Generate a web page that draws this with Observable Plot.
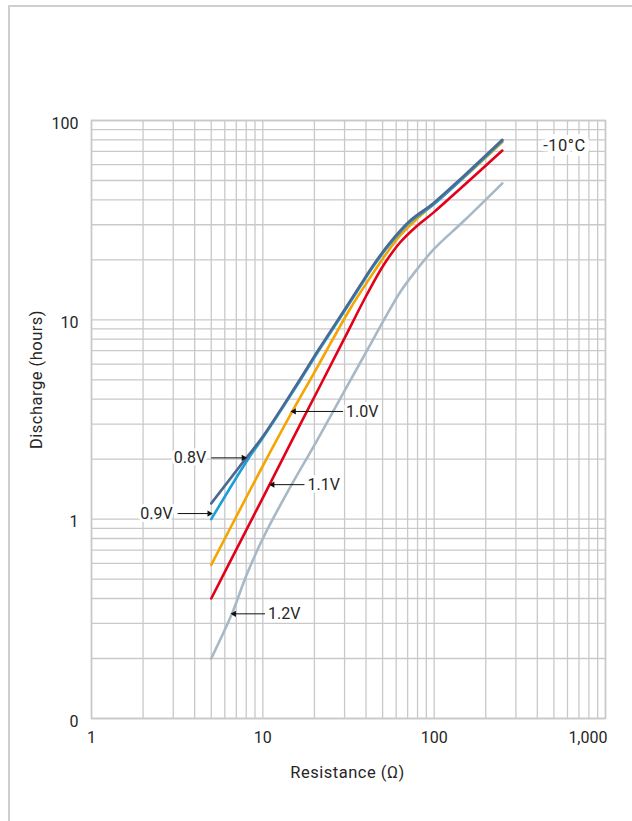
<!DOCTYPE html>
<html><head><meta charset="utf-8">
<script src="https://cdn.jsdelivr.net/npm/d3@7"></script>
<script src="https://cdn.jsdelivr.net/npm/@observablehq/plot@0.6"></script>
<style>
html,body{margin:0;padding:0;background:#fff;}
#wrap{position:relative;width:632px;height:821px;overflow:hidden;}
#chart{position:absolute;left:0;top:0;}
#box{position:absolute;left:8px;top:5px;width:700px;height:900px;border-top:2px solid #cfcfcf;border-left:2px solid #cfcfcf;pointer-events:none;}
</style></head><body>
<div id="wrap"><div id="chart"></div><div id="box"></div></div>
<script>
// ---- data ----
const seriesNames = ["1.2V", "1.1V", "1.0V", "0.9V", "0.8V"];
const seriesColors = ["#a7b9c7", "#e2001a", "#f5a500", "#1a9fdb", "#4d6a8e"];

const r08 = [5, 7.9, 10, 15.8, 21.4, 30.3, 37, 44.3, 55.4, 72.5, 99, 150, 250];
const h08 = [1.2, 2.0, 2.6, 4.75, 7.2, 11.4, 14.9, 18.9, 24.5, 31.5, 38.5, 53, 80];

const r09 = [5, 8.1, 10, 15.8, 21.4, 30.3, 37, 44.3, 55.4, 72.5, 99, 150, 250];
const h09 = [1.0, 1.97, 2.56, 4.68, 7.09, 11.23, 14.68, 18.6, 24.1, 31.0, 37.9, 52.2, 79];

const r10 = [5, 7.4, 10, 14.8, 20, 25, 32.4, 40.5, 50.6, 63.3, 79, 99, 150, 250];
const h10 = [0.59, 1.13, 1.85, 3.45, 5.45, 7.7, 11.4, 15.4, 20.5, 26.5, 32, 38, 52, 78];

const r11 = [5, 7.07, 10, 14.5, 21.6, 30, 40.5, 50.6, 63.4, 79, 99, 150, 250];
const h11 = [0.4, 0.716, 1.28, 2.4, 4.67, 8.1, 13.4, 18.8, 24.5, 29.5, 34.5, 47.5, 70.7];

const r12 = [5, 6.6, 8, 10, 14, 20.7, 31, 40.5, 54.2, 63.4, 75.7, 99, 150, 250];
const h12 = [0.2, 0.335, 0.52, 0.8, 1.38, 2.48, 4.64, 7.0, 11.0, 13.8, 17.0, 22.5, 31.5, 48.4];

const xTicks = [1, 10, 100, 1000];
const xTickLabels = ["1", "10", "100", "1,000"];
const yTicks = [0.1, 1, 10, 100];
const yTickLabels = ["0", "1", "10", "100"];

// annotation labels: arrow tail (resistance), arrow tip (resistance), level (hours)
const annLabels = ["0.8V", "0.9V", "1.0V", "1.1V", "1.2V"];
const annTail = [5.0, 3.18, 29.4, 17.5, 10.3];
const annTip = [7.92, 5.0, 14.8, 11.1, 6.62];
const annHours = [2.03, 1.067, 3.47, 1.49, 0.335];

const tempLabel = "-10°C";
const xLabel = "Resistance (Ω)";
const yLabel = "Discharge (hours)";

// ---- build tables ----
const seriesR = {"0.8V": r08, "0.9V": r09, "1.0V": r10, "1.1V": r11, "1.2V": r12};
const seriesH = {"0.8V": h08, "0.9V": h09, "1.0V": h10, "1.1V": h11, "1.2V": h12};
const lineData = seriesNames.flatMap(s => seriesR[s].map((r, i) => ({series: s, r, h: seriesH[s][i]})));
const ann = annLabels.map((label, i) => ({label, tail: annTail[i], tip: annTip[i], h: annHours[i]}));
const annLeft = ann.filter(d => d.tip > d.tail);   // label left, arrow points right
const annRight = ann.filter(d => d.tip < d.tail);  // label right, arrow points left

const gridXTicks = d3.scaleLog().domain([1, 1000]).ticks();
const gridYTicks = d3.scaleLog().domain([0.1, 100]).ticks();
const gridStyle = {stroke: "#c9c9c9", strokeOpacity: 1, strokeWidth: 1.3};
const txt = "#262626";

const chart = Plot.plot({
  width: 632,
  height: 821,
  marginLeft: 91,
  marginRight: 27,
  marginTop: 120,
  marginBottom: 103,
  style: {fontFamily: "Roboto, 'Noto Sans', sans-serif", fontSize: "16px", color: txt, background: "transparent"},
  x: {type: "log", domain: [1, 1000], axis: null},
  y: {type: "log", domain: [0.1, 100], axis: null},
  color: {domain: seriesNames, range: seriesColors},
  marks: [
    Plot.gridX(gridXTicks, gridStyle),
    Plot.gridY(gridYTicks, gridStyle),
    Plot.frame({stroke: "#c9c9c9", strokeWidth: 1.6}),
    Plot.axisX(xTicks.slice(0, 3), {tickSize: 0, tickPadding: 13, fontSize: 16, fill: txt,
      tickFormat: d => xTickLabels[xTicks.indexOf(d)], label: null}),
    Plot.axisX(xTicks.slice(3), {tickSize: 0, tickPadding: 13, fontSize: 16, fill: txt, textAnchor: "end", dx: 2,
      tickFormat: d => xTickLabels[xTicks.indexOf(d)], label: null}),
    Plot.axisY(yTicks, {tickSize: 0, tickPadding: 13, fontSize: 16, fill: txt, dy: 3,
      tickFormat: d => yTickLabels[yTicks.indexOf(d)], label: null}),
    Plot.line(lineData, {x: "r", y: "h", z: "series", stroke: "series", strokeWidth: 2.6, curve: "catmull-rom"}),
    // annotation arrows
    Plot.link(ann, {x1: "tail", y1: "h", x2: "tip", y2: "h", stroke: "#111", strokeWidth: 1}),
    Plot.dot(annLeft, {x: "tip", y: "h", symbol: "triangle", r: 2.3, fill: "#111", rotate: 90, dx: -2}),
    Plot.dot(annRight, {x: "tip", y: "h", symbol: "triangle", r: 2.3, fill: "#111", rotate: -90, dx: 2}),
    Plot.text(annLeft, {x: "tail", y: "h", text: "label", textAnchor: "end", dx: -5, fontSize: 16, fill: txt,
      stroke: "white", strokeWidth: 6, paintOrder: "stroke"}),
    Plot.text(annRight, {x: "tail", y: "h", text: "label", textAnchor: "start", dx: 3, fontSize: 16, fill: txt,
      stroke: "white", strokeWidth: 6, paintOrder: "stroke"}),
    Plot.text([tempLabel], {frameAnchor: "top-right", textAnchor: "middle", lineAnchor: "middle", dx: -41, dy: 25,
      text: d => d, fontSize: 16.5, fill: txt, stroke: "white", strokeWidth: 10, paintOrder: "stroke"}),
    Plot.text([yLabel], {frameAnchor: "left", textAnchor: "middle", lineAnchor: "middle", rotate: -90, dx: -55, dy: -40,
      text: d => d, fontSize: 16.5, fill: txt}),
    Plot.text([xLabel], {frameAnchor: "bottom", textAnchor: "middle", lineAnchor: "middle", dx: -1, dy: 54,
      text: d => d, fontSize: 16.5, fill: txt})
  ]
});
chart.querySelectorAll("text").forEach(t => {
  if (t.textContent === xLabel || t.textContent === yLabel || t.textContent === tempLabel) t.style.letterSpacing = "0.5px";
});
document.getElementById("chart").appendChild(chart);
</script>
</body></html>
